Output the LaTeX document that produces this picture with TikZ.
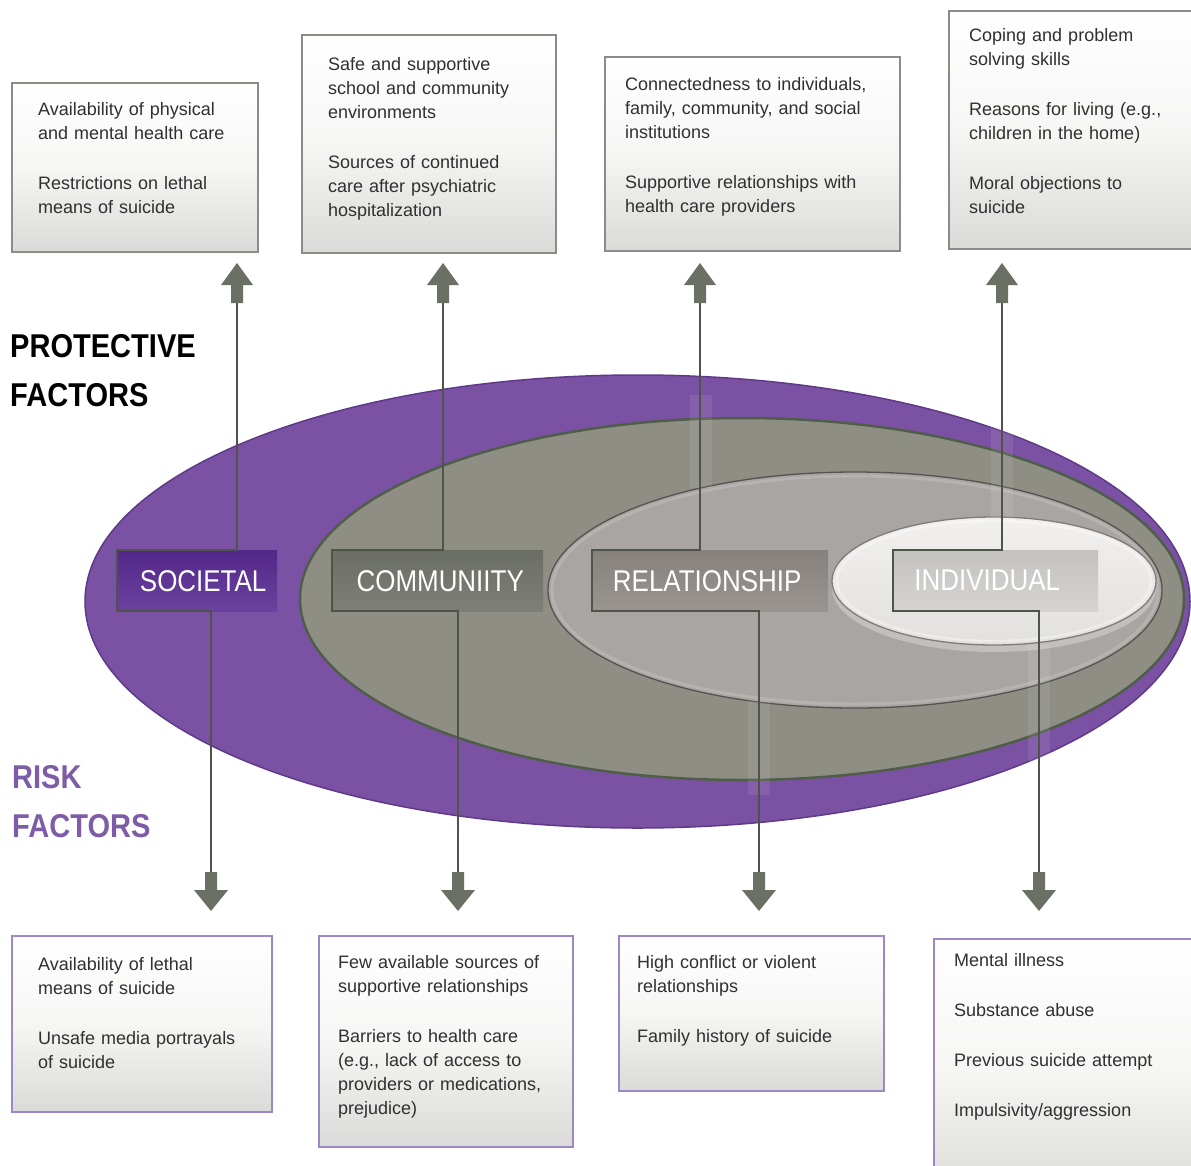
\documentclass[tikz,border=0pt]{standalone}
\usepackage{fontspec}
\setmainfont{Liberation Sans}
\usepackage{graphicx}
\definecolor{purp}{HTML}{7B52A3}
\definecolor{purpedge}{HTML}{5E3A88}
\definecolor{commf}{HTML}{8E8E85}
\definecolor{commedge}{HTML}{4F5E49}
\definecolor{relf}{HTML}{A9A5A3}
\definecolor{reledge}{HTML}{55524F}
\definecolor{indtop}{HTML}{F1F0EF}
\definecolor{indbot}{HTML}{E3E1DF}
\definecolor{indedge}{HTML}{7E7B79}
\definecolor{indshadow}{HTML}{C3BFBD}
\definecolor{connc}{HTML}{4E5449}
\definecolor{arrowc}{HTML}{6B7065}
\definecolor{boxgray}{HTML}{8C8C87}
\definecolor{boxpurp}{HTML}{9E87C6}
\definecolor{boxshade}{HTML}{DADAD8}
\definecolor{boxmid}{HTML}{F6F6F5}
\definecolor{txt}{HTML}{303030}
\definecolor{riskc}{HTML}{7D5CA8}
\definecolor{soctop}{HTML}{522789}
\definecolor{socbot}{HTML}{6C42A0}
\definecolor{comtop}{HTML}{6B6E64}
\definecolor{combot}{HTML}{7E8077}
\definecolor{reltop}{HTML}{87817D}
\definecolor{relbot}{HTML}{9A9591}
\definecolor{indtabtop}{HTML}{C4C2C0}
\definecolor{indtabbot}{HTML}{D6D4D2}
\tikzset{
  pbox/.style={draw=boxgray, line width=2pt, top color=white, bottom color=boxshade, middle color=boxmid, anchor=north west, inner sep=0},
  rbox/.style={draw=boxpurp, line width=2pt, top color=white, bottom color=boxshade, middle color=boxmid, anchor=north west, inner sep=0},
  btext/.style={font=\fontsize{18pt}{24pt}\selectfont, text=txt, text width=270pt, align=left, inner sep=0, anchor=base west},
  tab/.style={anchor=north west, inner sep=0, text=white, font=\fontsize{30pt}{36pt}\selectfont, minimum height=61},
  connline/.style={draw=connc, line width=2pt},
  glow/.style={fill=white, opacity=0.08},
  title/.style={anchor=base west, inner sep=0, text width=300pt, align=left, font=\bfseries\fontsize{33pt}{49pt}\selectfont},
  uparr/.pic={\fill[arrowc] (-6,0) -- (-6,-18) -- (-16,-18) -- (0,-40) -- (16,-18) -- (6,-18) -- (6,0) -- cycle;},
  downarr/.pic={\fill[arrowc] (-6,0) -- (-6,18) -- (-17,18) -- (0,39) -- (17,18) -- (6,18) -- (6,0) -- cycle;}
}
\begin{document}
\begin{tikzpicture}[x=1pt,y=-1pt]
\useasboundingbox (0,0) rectangle (1191,1165);
\clip (0,0) rectangle (1191,1165);
\fill[white] (0,0) rectangle (1191,1165);

% nested ellipses
\draw[purpedge, line width=1.5pt, fill=purp] (637.5,601.5) ellipse [x radius=552.5, y radius=226.5];
\draw[commedge, line width=2.5pt, fill=commf] (742,599) ellipse [x radius=442, y radius=181];
\draw[reledge, line width=1.3pt, fill=relf] (855,590) ellipse [x radius=307, y radius=118];
\draw[white, opacity=0.15, line width=3pt] (855,590) ellipse [x radius=303, y radius=114];
\fill[indshadow] (994,588) ellipse [x radius=162, y radius=64];
\draw[indedge, line width=1.3pt, top color=indtop, bottom color=indbot] (994,581) ellipse [x radius=162, y radius=64];
\draw[white, opacity=0.35, line width=2.5pt] (994,581) ellipse [x radius=157, y radius=60];

% light strips along the vertical lines
\fill[glow] (690,395) rectangle (712,488);
\fill[glow] (991,405) rectangle (1013,520);
\fill[glow] (748,700) rectangle (770,795);
\fill[glow] (1028,645) rectangle (1050,790);

% level tabs
\node[tab, top color=soctop, bottom color=socbot, minimum width=160] (soc) at (117,550) {\hspace*{12pt}\scalebox{0.865}[1]{SOCIETAL}};
\node[tab, top color=comtop, bottom color=combot, minimum width=211] (com) at (332,550) {\hspace*{5pt}\scalebox{0.865}[1]{COMMUNIITY}};
\node[tab, top color=reltop, bottom color=relbot, minimum width=236] (rel) at (592,550) {\scalebox{0.865}[1]{RELATIONSHIP}\hspace*{6pt}};
\node[tab, top color=indtabtop, bottom color=indtabbot, minimum width=205] (ind) at (893,550) {\scalebox{0.865}[1]{INDIVIDUAL}\hspace*{17pt}};

% arrow anchor points
\coordinate (ua) at (237,303); \coordinate (da) at (211,872);
\coordinate (ub) at (443,303); \coordinate (db) at (458,872);
\coordinate (uc) at (700,303); \coordinate (dc) at (759,872);
\coordinate (ud) at (1002,303); \coordinate (dd) at (1039,872);

% connectors
\draw[connline] (ua) |- (soc.north west) -- (soc.south west) -| (da);
\draw[connline] (ub) |- (com.north west) -- (com.south west) -| (db);
\draw[connline] (uc) |- (rel.north west) -- (rel.south west) -| (dc);
\draw[connline] (ud) |- (ind.north west) -- (ind.south west) -| (dd);
\pic at (ua) {uparr}; \pic at (ub) {uparr}; \pic at (uc) {uparr}; \pic at (ud) {uparr};
\pic at (da) {downarr}; \pic at (db) {downarr}; \pic at (dc) {downarr}; \pic at (dd) {downarr};

% protective factor boxes
\node[pbox, minimum width=246, minimum height=169] (b1) at (11,82) {};
\node[pbox, minimum width=254, minimum height=218] (b2) at (301,34) {};
\node[pbox, minimum width=295, minimum height=194] (b3) at (604,56) {};
\node[pbox, minimum width=270, minimum height=238] (b4) at (948,10) {};
\node[btext] (t1) at (38,115) {Availability of physical\\and mental health care\\[26pt]Restrictions on lethal\\means of suicide};
\node[btext] (t2) at (328,70) {Safe and supportive\\school and community\\environments\\[26pt]Sources of continued\\care after psychiatric\\hospitalization};
\node[btext] (t3) at (625,90) {Connectedness to individuals,\\family, community, and social\\institutions\\[26pt]Supportive relationships with\\health care providers};
\node[btext] (t4) at (969,41) {Coping and problem\\solving skills\\[26pt]Reasons for living (e.g.,\\children in the home)\\[26pt]Moral objections to\\suicide};

% risk factor boxes
\node[rbox, minimum width=260, minimum height=176] (b5) at (11,935) {};
\node[rbox, minimum width=254, minimum height=211] (b6) at (318,935) {};
\node[rbox, minimum width=265, minimum height=155] (b7) at (618,935) {};
\node[rbox, minimum width=280, minimum height=260] (b8) at (933,938) {};
\node[btext] (t5) at (38,970) {Availability of lethal\\means of suicide\\[26pt]Unsafe media portrayals\\of suicide};
\node[btext] (t6) at (338,968) {Few available sources of\\supportive relationships\\[26pt]Barriers to health care\\(e.g., lack of access to\\providers or medications,\\prejudice)};
\node[btext] (t7) at (637,968) {High conflict or violent\\relationships\\[26pt]Family history of suicide};
\node[btext] (t8) at (954,966) {Mental illness\\[26pt]Substance abuse\\[26pt]Previous suicide attempt\\[26pt]Impulsivity/aggression};

% side titles
\node[title, text=black] (prot) at (10,357) {\scalebox{0.88}[1]{PROTECTIVE}\\\scalebox{0.88}[1]{FACTORS}};
\node[title, text=riskc] (risk) at (12,788) {\scalebox{0.88}[1]{RISK}\\\scalebox{0.88}[1]{FACTORS}};
\end{tikzpicture}
\end{document}
